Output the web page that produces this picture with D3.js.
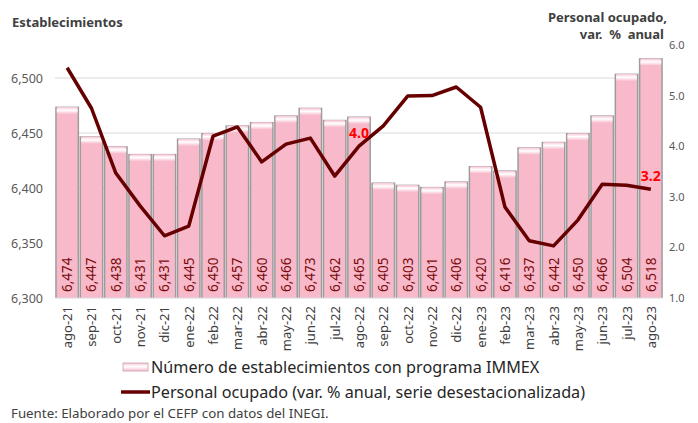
<!DOCTYPE html>
<html>
<head>
<meta charset="utf-8">
<script src="https://cdn.jsdelivr.net/npm/d3@7"></script>
<style>
  body { margin: 0; background: #fff; }
  svg text { font-family: "Noto Sans", "Open Sans", sans-serif; }
</style>
</head>
<body>
<div id="chart"></div>
<script>
// datos
const meses = ["ago-21","sep-21","oct-21","nov-21","dic-21","ene-22","feb-22","mar-22","abr-22","may-22","jun-22","jul-22",
  "ago-22","sep-22","oct-22","nov-22","dic-22","ene-23","feb-23","mar-23","abr-23","may-23","jun-23","jul-23","ago-23"];
const establecimientos = [6474,6447,6438,6431,6431,6445,6450,6457,6460,6466,6473,6462,
  6465,6405,6403,6401,6406,6420,6416,6437,6442,6450,6466,6504,6518];
const personalOcupado = [5.55,4.75,3.47,2.82,2.23,2.42,4.20,4.38,3.69,4.04,4.16,3.41,
  4.0,4.40,4.99,5.0,5.17,4.77,2.80,2.13,2.03,2.54,3.25,3.23,3.15];
const ticksIzq = [6300,6350,6400,6450,6500];
const ticksDer = [1,2,3,4,5,6];
const etiquetasLinea = {"ago-22": "4.0", "ago-23": "3.2"};

const width = 698, height = 423;
const m = {left: 55, right: 35, top: 45, bottom: 125};

const svg = d3.select("#chart").append("svg")
  .attr("width", width).attr("height", height);

const defs = svg.append("defs");
const grad = defs.append("linearGradient").attr("id", "brillo")
  .attr("x1", 0).attr("y1", 0).attr("x2", 0).attr("y2", 1);
grad.append("stop").attr("offset", "0%").attr("stop-color", "#f7c6d5");
grad.append("stop").attr("offset", "45%").attr("stop-color", "#ffffff");
grad.append("stop").attr("offset", "100%").attr("stop-color", "#f8bccd");

const x = d3.scaleBand().domain(meses)
  .range([m.left, width - m.right]).paddingInner(0.1).paddingOuter(0.05);
const y = d3.scaleLinear().domain([6300, 6530]).range([height - m.bottom, m.top]);
const y2 = d3.scaleLinear().domain([1, 6]).range([height - m.bottom, m.top]);

// rejilla
svg.append("g")
  .selectAll("line").data(ticksIzq.slice(1)).join("line")
  .attr("x1", m.left).attr("x2", width - m.right)
  .attr("y1", d => y(d)).attr("y2", d => y(d))
  .attr("stroke", "#d9d9d9").attr("stroke-width", 1);

// eje izquierdo
const ejeIzq = svg.append("g")
  .attr("transform", `translate(${m.left},0)`)
  .call(d3.axisLeft(y).tickValues(ticksIzq).tickFormat(d3.format(",")).tickSize(0).tickPadding(12));
ejeIzq.select(".domain").remove();
ejeIzq.selectAll("text").attr("fill", "#595959").style("font-size", "12.5px");

// eje derecho
const ejeDer = svg.append("g")
  .attr("transform", `translate(${width - m.right},0)`)
  .call(d3.axisRight(y2).tickValues(ticksDer).tickFormat(d3.format(".1f")).tickSize(0).tickPadding(6));
ejeDer.select(".domain").remove();
ejeDer.selectAll("text").attr("fill", "#595959").style("font-size", "11px");

// barras
const barras = svg.append("g").selectAll("g").data(meses).join("g");
barras.append("rect")
  .attr("x", d => x(d) - 1).attr("width", x.bandwidth() + 2)
  .attr("y", (d, i) => y(establecimientos[i]))
  .attr("height", (d, i) => y(6300) - y(establecimientos[i]))
  .attr("fill", "#9c9c9c");
barras.append("rect")
  .attr("x", d => x(d) + 0.5).attr("width", x.bandwidth() - 1)
  .attr("y", (d, i) => y(establecimientos[i]) + 0.5)
  .attr("height", (d, i) => y(6300) - y(establecimientos[i]) - 0.5)
  .attr("fill", "#f8b9cb");
barras.append("rect")
  .attr("x", d => x(d) + 0.5).attr("width", x.bandwidth() - 1)
  .attr("y", (d, i) => y(establecimientos[i]) + 0.5)
  .attr("height", 7)
  .attr("rx", 2)
  .attr("fill", "url(#brillo)");
barras.append("text")
  .attr("transform", d => `translate(${x(d) + x.bandwidth() / 2 + 5},${y(6300) - 6}) rotate(-90)`)
  .attr("fill", "#7a0a0a")
  .style("font-size", "13.5px")
  .text((d, i) => d3.format(",")(establecimientos[i]));

// eje x
svg.append("line")
  .attr("x1", m.left).attr("x2", width - m.right)
  .attr("y1", y(6300)).attr("y2", y(6300))
  .attr("stroke", "#d9d9d9");
svg.append("g").selectAll("text").data(meses).join("text")
  .attr("transform", d => `translate(${x(d) + x.bandwidth() / 2 + 5},${y(6300) + 8}) rotate(-90)`)
  .attr("text-anchor", "end")
  .attr("fill", "#404040")
  .style("font-size", "13px")
  .text(d => d);

// linea
const linea = d3.line()
  .x((d, i) => x(meses[i]) + x.bandwidth() / 2)
  .y(d => y2(d));
svg.append("path")
  .datum(personalOcupado)
  .attr("d", linea)
  .attr("fill", "none")
  .attr("stroke", "#660000")
  .attr("stroke-width", 3.5)
  .attr("stroke-linejoin", "round");

svg.append("g").selectAll("text").data(Object.keys(etiquetasLinea)).join("text")
  .attr("x", d => x(d) + x.bandwidth() / 2)
  .attr("y", d => y2(personalOcupado[meses.indexOf(d)]) - 8)
  .attr("text-anchor", "middle")
  .attr("fill", "#ff0000")
  .style("font-size", "14px").style("font-weight", "bold")
  .text(d => etiquetasLinea[d]);

// titulos
svg.append("text").attr("x", 12).attr("y", 27)
  .attr("fill", "#404040").style("font-size", "13px").style("font-weight", "bold")
  .text("Establecimientos");
svg.append("text").attr("x", 667).attr("y", 22).attr("text-anchor", "end")
  .attr("fill", "#404040").style("font-size", "13px").style("font-weight", "bold")
  .text("Personal ocupado,");
svg.append("text").attr("x", 664).attr("y", 39).attr("text-anchor", "end")
  .attr("fill", "#404040").style("font-size", "13px").style("font-weight", "bold")
  .style("white-space", "pre").attr("xml:space", "preserve")
  .text("var.  %  anual");

// leyenda
const ley = svg.append("g");
ley.append("rect").attr("x", 123).attr("y", 363).attr("width", 25).attr("height", 8)
  .attr("fill", "url(#brillo)").attr("stroke", "#c9a0ad").attr("stroke-width", 0.8);
ley.append("text").attr("x", 151).attr("y", 373)
  .attr("fill", "#262626").style("font-size", "16.2px")
  .text("Número de establecimientos con programa IMMEX");
ley.append("line").attr("x1", 121).attr("x2", 150).attr("y1", 392).attr("y2", 392)
  .attr("stroke", "#660000").attr("stroke-width", 3.5);
ley.append("text").attr("x", 151).attr("y", 398)
  .attr("fill", "#262626").style("font-size", "16.2px")
  .text("Personal ocupado (var. % anual, serie desestacionalizada)");

svg.append("text").attr("x", 11).attr("y", 418)
  .attr("fill", "#404040").style("font-size", "13.3px")
  .text("Fuente: Elaborado por el CEFP con datos del INEGI.");
</script>
</body>
</html>
